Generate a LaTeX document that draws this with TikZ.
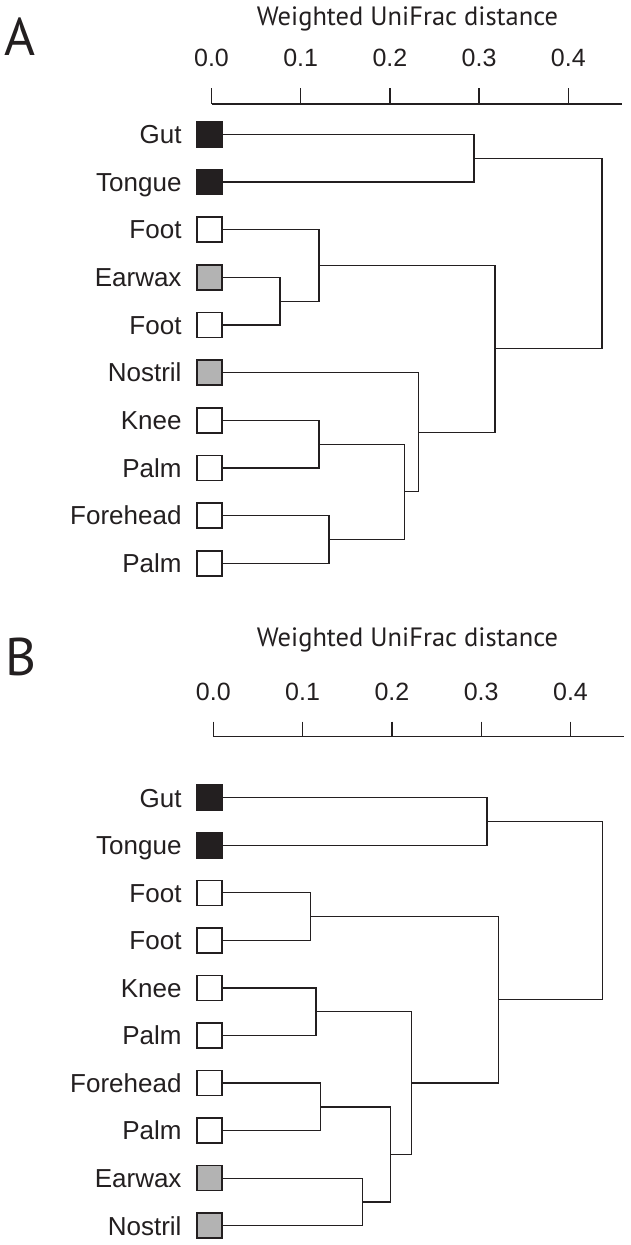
\documentclass[tikz,border=0pt]{standalone}
\usepackage{fontspec}
\setmainfont{Liberation Sans}
\newfontfamily\titlefont{PT Sans}
\usetikzlibrary{calc}
\definecolor{ink}{HTML}{231F20}
\definecolor{midgray}{HTML}{B3B3B3}
\tikzset{
  branch/.style={draw=ink, line width=1.3pt},
  leafbox/.style={draw=ink, line width=1.5pt, minimum width=25pt, minimum height=25pt, inner sep=0pt, fill=white},
  blackbox/.style={leafbox, fill=ink},
  graybox/.style={leafbox, fill=midgray},
  whitebox/.style={leafbox, fill=white},
  leaflabel/.style={font=\fontsize{26}{27}\selectfont, inner sep=0pt, anchor=east, text height=18.6pt, text depth=0pt, text=ink},
  ticklabel/.style={font=\fontsize{25}{26}\selectfont, inner sep=0pt, anchor=base, text=ink},
  axistitle/.style={font=\titlefont\fontsize{26.5}{28}\selectfont, inner sep=0pt, anchor=base, text=ink},
  panelletter/.style={font=\titlefont\fontsize{53}{55}\selectfont, inner sep=0pt, anchor=base west, text=ink},
}
\newcommand\myleaf[4]{%
  \node[#4] (#1) at (209.5,#2) {};
  \node[leaflabel] (#1t) at (181.7,#2) {#3};
}
\newcommand\myjoin[4]{%
  \path let \p1=(#3), \p2=(#4) in coordinate (#1) at ({#2}, {0.5*(\y1+\y2)});
  \draw[branch] (#3) -| (#1) |- (#4);
}
\begin{document}
\begin{tikzpicture}[x=1pt,y=-1pt]
\useasboundingbox (0,0) rectangle (631,1245);
\fill[white] (0,0) rectangle (631,1245);

% ---------------- Panel A ----------------
\node[panelletter] (letA) at (4,55) {A};
\node[axistitle] (titA) at (407.5,25) {Weighted UniFrac distance};
\draw[branch] (211.5,104) -- (621.7,104);
\foreach \i/\lab in {0/0.0,1/0.1,2/0.2,3/0.3,4/0.4} {
  \draw[branch] ({211.5+89.2*\i},88.3) -- ({211.5+89.2*\i},104);
  \node[ticklabel] (aT\i) at ({211.5+89.2*\i},66.7) {\lab};
}
\myleaf{a1}{134.3}{Gut}{blackbox}
\myleaf{a2}{182.0}{Tongue}{blackbox}
\myleaf{a3}{229.6}{Foot}{whitebox}
\myleaf{a4}{277.3}{Earwax}{graybox}
\myleaf{a5}{325.0}{Foot}{whitebox}
\myleaf{a6}{372.6}{Nostril}{graybox}
\myleaf{a7}{420.3}{Knee}{whitebox}
\myleaf{a8}{468.0}{Palm}{whitebox}
\myleaf{a9}{515.6}{Forehead}{whitebox}
\myleaf{a10}{563.3}{Palm}{whitebox}

\myjoin{agt}{474}{a1}{a2}
\myjoin{aef}{280}{a4}{a5}
\myjoin{afef}{319}{a3}{aef}
\myjoin{akp}{319}{a7}{a8}
\myjoin{afp}{329}{a9}{a10}
\myjoin{akpfp}{404.4}{akp}{afp}
\myjoin{an}{418.5}{a6}{akpfp}
\myjoin{amid}{495}{afef}{an}
\myjoin{aroot}{602}{agt}{amid}

% ---------------- Panel B ----------------
\node[panelletter] (letB) at (5,675) {B};
\node[axistitle] (titB) at (407.5,646.7) {Weighted UniFrac distance};
\draw[branch] (213.3,736.7) -- (623.7,736.7);
\foreach \i/\lab in {0/0.0,1/0.1,2/0.2,3/0.3,4/0.4} {
  \draw[branch] ({213.3+89.3*\i},721.7) -- ({213.3+89.3*\i},736.7);
  \node[ticklabel] (bT\i) at ({213.3+89.3*\i},700) {\lab};
}
\myleaf{b1}{797.7}{Gut}{blackbox}
\myleaf{b2}{845.3}{Tongue}{blackbox}
\myleaf{b3}{892.8}{Foot}{whitebox}
\myleaf{b4}{940.4}{Foot}{whitebox}
\myleaf{b5}{987.9}{Knee}{whitebox}
\myleaf{b6}{1035.5}{Palm}{whitebox}
\myleaf{b7}{1083.1}{Forehead}{whitebox}
\myleaf{b8}{1130.6}{Palm}{whitebox}
\myleaf{b9}{1178.2}{Earwax}{graybox}
\myleaf{b10}{1225.7}{Nostril}{graybox}

\myjoin{bgt}{487}{b1}{b2}
\myjoin{bff}{310.7}{b3}{b4}
\myjoin{bkp}{316}{b5}{b6}
\myjoin{bfp}{320.7}{b7}{b8}
\myjoin{ben}{362.2}{b9}{b10}
\myjoin{bfpen}{390.3}{bfp}{ben}
\myjoin{bkpx}{411.3}{bkp}{bfpen}
\myjoin{bmid}{498.2}{bff}{bkpx}
\myjoin{broot}{602.4}{bgt}{bmid}
\end{tikzpicture}
\end{document}
